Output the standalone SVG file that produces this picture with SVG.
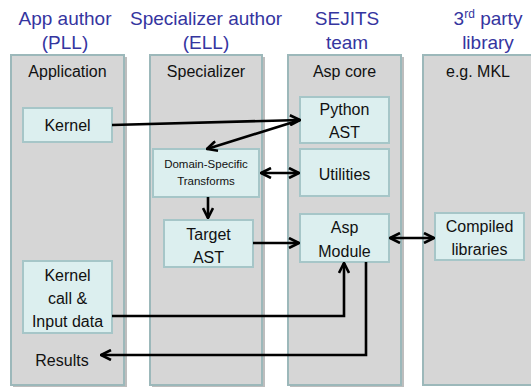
<svg xmlns="http://www.w3.org/2000/svg" width="531" height="387" viewBox="0 0 531 387">
<defs>
<style>
.hdr{font-family:"Liberation Sans",Arial,sans-serif;font-size:19px;fill:#3535a0;text-anchor:middle}
.ttl{font-family:"Liberation Sans",Arial,sans-serif;font-size:16px;fill:#111;text-anchor:middle}
.txt{font-family:"Liberation Sans",Arial,sans-serif;font-size:16px;fill:#111;text-anchor:middle}
.sm{font-family:"Liberation Sans",Arial,sans-serif;font-size:11.5px;fill:#111;text-anchor:middle}
.panel{fill:#d6d6d6;stroke:#9cb8ba;stroke-width:2}
.shadow{fill:#bdbdbd}
.node{fill:#dcefef;stroke:#a6c6c8;stroke-width:2}
.conn{fill:none;stroke:#000;stroke-width:2.6}
</style>
<marker id="ah" viewBox="0 0 12 12" refX="11" refY="6" markerWidth="12" markerHeight="12" markerUnits="userSpaceOnUse" orient="auto-start-reverse">
<path d="M1,1 L11,6 L1,11" fill="none" stroke="#000" stroke-width="2.6"/>
</marker>
</defs>
<rect width="531" height="387" fill="#fff"/>

<g id="headers">
<text class="hdr" x="65" y="25">App author</text>
<text class="hdr" x="65" y="49">(PLL)</text>
<text class="hdr" x="206" y="25">Specializer author</text>
<text class="hdr" x="206" y="49">(ELL)</text>
<text class="hdr" x="347" y="25">SEJITS</text>
<text class="hdr" x="347" y="49">team</text>
<text class="hdr" x="488" y="25">3<tspan font-size="12" dy="-7">rd</tspan><tspan dy="7"> party</tspan></text>
<text class="hdr" x="488" y="49">library</text>
</g>

<g id="panel-application">
<rect class="shadow" x="13" y="57" width="114" height="330"/>
<rect class="panel" x="11" y="55" width="113" height="330"/>
<text class="ttl" x="67.5" y="77">Application</text>
</g>
<g id="panel-specializer">
<rect class="shadow" x="152" y="57" width="113" height="330"/>
<rect class="panel" x="150" y="55" width="112" height="330"/>
<text class="ttl" x="206" y="77">Specializer</text>
</g>
<g id="panel-aspcore">
<rect class="shadow" x="290" y="57" width="114" height="330"/>
<rect class="panel" x="288" y="55" width="113" height="330"/>
<text class="ttl" x="344.5" y="77">Asp core</text>
</g>
<g id="panel-library">
<rect class="panel" x="423" y="55" width="112" height="330"/>
<text class="ttl" x="478" y="77">e.g. MKL</text>
</g>

<g id="node-kernel">
<rect class="node" x="23" y="108" width="89" height="34"/>
<text class="txt" x="67.5" y="131">Kernel</text>
</g>
<g id="node-kernelcall">
<rect class="node" x="23" y="261" width="89" height="72"/>
<text class="txt" x="67.5" y="281">Kernel</text>
<text class="txt" x="67.5" y="304">call &amp;</text>
<text class="txt" x="67.5" y="327">Input data</text>
</g>
<g id="node-results">
<text class="txt" x="62" y="366">Results</text>
</g>
<g id="node-dst">
<rect class="node" x="153" y="149" width="106" height="48"/>
<text class="sm" x="206" y="168">Domain-Specific</text>
<text class="sm" x="206" y="185">Transforms</text>
</g>
<g id="node-target">
<rect class="node" x="164" y="220" width="89" height="47"/>
<text class="txt" x="208.5" y="240">Target</text>
<text class="txt" x="208.5" y="263">AST</text>
</g>
<g id="node-python">
<rect class="node" x="300" y="97" width="89" height="46"/>
<text class="txt" x="344.5" y="115">Python</text>
<text class="txt" x="344.5" y="138">AST</text>
</g>
<g id="node-utilities">
<rect class="node" x="300" y="149" width="89" height="47"/>
<text class="txt" x="344.5" y="180">Utilities</text>
</g>
<g id="node-aspmodule">
<rect class="node" x="300" y="214" width="89" height="48"/>
<text class="txt" x="344.5" y="233">Asp</text>
<text class="txt" x="344.5" y="257">Module</text>
</g>
<g id="node-compiled">
<rect class="node" x="435" y="213" width="89" height="47"/>
<text class="txt" x="479.5" y="232">Compiled</text>
<text class="txt" x="479.5" y="255">libraries</text>
</g>

<g id="connectors">
<line class="conn" x1="112" y1="125" x2="300" y2="120" marker-end="url(#ah)"/>
<line class="conn" x1="300" y1="120" x2="207" y2="149" marker-end="url(#ah)"/>
<line class="conn" x1="261" y1="173" x2="299" y2="173" marker-start="url(#ah)" marker-end="url(#ah)"/>
<line class="conn" x1="208" y1="197" x2="208" y2="218" marker-end="url(#ah)"/>
<line class="conn" x1="253" y1="243" x2="299" y2="243" marker-end="url(#ah)"/>
<line class="conn" x1="390" y1="238" x2="434" y2="238" marker-start="url(#ah)" marker-end="url(#ah)"/>
<polyline class="conn" points="112,316 344,316 344,263" marker-end="url(#ah)"/>
<polyline class="conn" points="366,262 366,355 101,355" marker-end="url(#ah)"/>
</g>
</svg>
